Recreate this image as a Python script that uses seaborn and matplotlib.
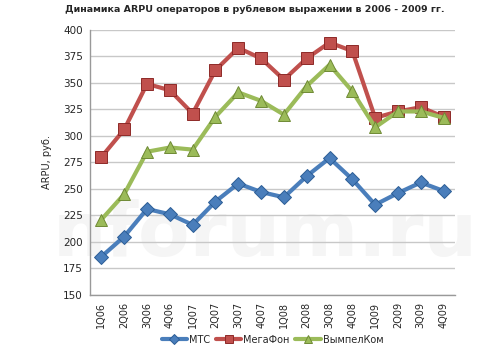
import pandas as pd
import matplotlib.pyplot as plt
import seaborn as sns

quarters = ['1Q06', '2Q06', '3Q06', '4Q06', '1Q07', '2Q07', '3Q07', '4Q07',
            '1Q08', '2Q08', '3Q08', '4Q08', '1Q09', '2Q09', '3Q09', '4Q09']
mts = [186, 205, 231, 226, 216, 238, 255, 247, 242, 262, 279, 259, 235, 246, 256, 248]
megafon = [280, 306, 349, 343, 321, 362, 383, 373, 353, 373, 388, 380, 317, 323, 327, 318]
vimpelcom = [221, 245, 285, 289, 287, 318, 341, 333, 320, 347, 367, 342, 308, 323, 323, 317]

df = pd.DataFrame({'Квартал': quarters, 'МТС': mts, 'МегаФон': megafon, 'ВымпелКом': vimpelcom})
df_long = df.melt(id_vars='Квартал', var_name='Оператор', value_name='ARPU')
df_long['x'] = df_long['Квартал'].map({q: i for i, q in enumerate(quarters)})

sns.set_theme(style="white")
plt.rcParams['font.family'] = ['DejaVu Sans']

fig = plt.figure(figsize=(5, 3.51), dpi=100)
ax = fig.add_axes([0.18, 0.16, 0.73, 0.755])

# faint watermark behind the lines
ax.text(0.53, 0.33, 'nforum.ru', transform=fig.transFigure, fontsize=54, fontweight='bold',
        color='#f5f5f5', ha='center', va='center', zorder=0, clip_on=False)

palette = {'МТС': '#4a7ebb', 'МегаФон': '#c0504d', 'ВымпелКом': '#9bbb59'}
edges = {'МТС': '#2c5d96', 'МегаФон': '#8e2a28', 'ВымпелКом': '#6f8a35'}
markers = {'МТС': 'D', 'МегаФон': 's', 'ВымпелКом': '^'}
sizes = {'МТС': 7, 'МегаФон': 8.5, 'ВымпелКом': 8.5}

for op in ['МТС', 'МегаФон', 'ВымпелКом']:
    sub = df_long[df_long['Оператор'] == op]
    sns.lineplot(data=sub, x='x', y='ARPU', ax=ax, color=palette[op], lw=3,
                 marker=markers[op], markersize=sizes[op], markeredgecolor=edges[op],
                 markeredgewidth=0.7, label=op, zorder=3)

ax.set_xlim(-0.5, 15.5)
ax.set_ylim(150, 400)
ax.set_yticks(range(150, 401, 25))
ax.set_xticks(range(16))
ax.set_xticklabels(quarters, rotation=90, fontsize=7)
ax.set_xticks([i + 0.5 for i in range(-1, 16)], minor=True)
ax.tick_params(axis='x', which='major', length=0, pad=5)
ax.tick_params(axis='x', which='minor', length=4, color='#999999', direction='out')
ax.tick_params(axis='y', labelsize=7.5, length=0, pad=5)
ax.yaxis.grid(True, color='#c8c8c8', lw=1, zorder=1)
ax.xaxis.grid(False)
ax.set_axisbelow(True)
for s in ['top', 'right']:
    ax.spines[s].set_visible(False)
for s in ['left', 'bottom']:
    ax.spines[s].set_color('#999999')
    ax.spines[s].set_linewidth(1)
ax.set_xlabel('')
ax.set_ylabel('ARPU, руб.', fontsize=7, labelpad=8)

fig.text(0.13, 0.985, 'Динамика ARPU операторов в рублевом выражении в 2006 - 2009 гг.',
         ha='left', va='top', fontsize=6.8, fontweight='bold')

ax.legend(loc='center', bbox_to_anchor=(0.5, -0.17), ncol=3, frameon=False,
          fontsize=7, handlelength=2.6, columnspacing=0.6, handletextpad=0.2,
          markerscale=0.75)

fig.savefig('out.png', dpi=100)
